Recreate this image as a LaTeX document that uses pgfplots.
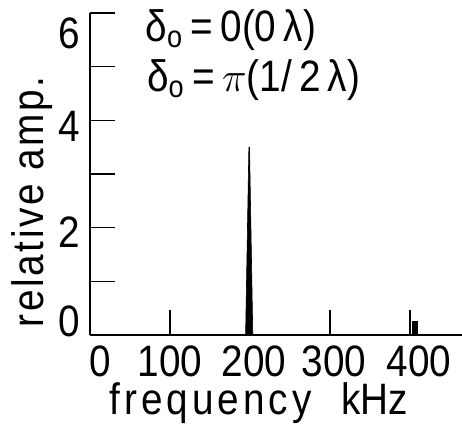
\documentclass[border=0pt]{standalone}
\usepackage{fontspec}
\setmainfont{Liberation Sans}[FakeStretch=0.88]
\usepackage{pgfplots}
\pgfplotsset{compat=1.18}
\begin{document}
\begin{tikzpicture}
\begin{axis}[
  name=ax,
  scale only axis, width=186pt, height=161pt,
  xmin=0, xmax=465, ymin=0, ymax=6,
  axis x line=bottom, axis y line=left,
  axis line style={line width=1pt, -},
  xtick={12.5,100,205,305,411}, xticklabels={0,100,200,300,400},
  ytick={0.26,1.92,3.89,5.63}, yticklabels={0,2,4,6},
  major tick length=0pt,
  extra x ticks={100,200,300,400}, extra x tick labels={},
  extra y ticks={0,1,2,3,4,5,6}, extra y tick labels={},
  extra x tick style={major tick length=12.5pt, tick align=inside, tick style={line width=0.8pt, black}},
  extra y tick style={major tick length=12.5pt, tick align=inside, tick style={line width=0.8pt, black}},
  font=\fontsize{22}{26}\selectfont,
  xticklabel style={anchor=north, inner sep=0pt, yshift=-5pt},
  yticklabel style={anchor=east, inner sep=0pt, xshift=-5pt},
  xlabel={{\addfontfeature{LetterSpace=9}frequency}\hspace{15pt}kHz},
  ylabel={\addfontfeature{LetterSpace=6}relative amp.},
  xlabel style={at={(axis description cs:0.454,0)}, anchor=north, inner sep=0pt, yshift=-23.5pt},
  ylabel style={at={(axis description cs:-0.156,0.413)}, anchor=center, inner sep=0pt},
  clip=false,
]
\addplot[fill=black, draw=black, line width=0.3pt] coordinates {(194.5,0) (198.6,3.5) (199.4,3.5) (203.5,0)} --cycle;
\addplot[fill=black, draw=black, line width=0.3pt] coordinates {(403,0) (403,0.25) (409,0.25) (409,0)} --cycle;
\node[anchor=west, inner sep=0pt] at (axis cs:69,5.68) {δ\textsubscript{o}\,=\,0(0\,λ)};
\node[anchor=west, inner sep=0pt] at (axis cs:71,4.75) {δ\textsubscript{o}\,=\,$\pi$(1/\,2\,λ)};
\end{axis}
\pgfresetboundingbox
\path[use as bounding box] ([xshift=-45pt,yshift=-44.5pt]ax.south west) rectangle ++(231pt,212pt);
\end{tikzpicture}
\end{document}
